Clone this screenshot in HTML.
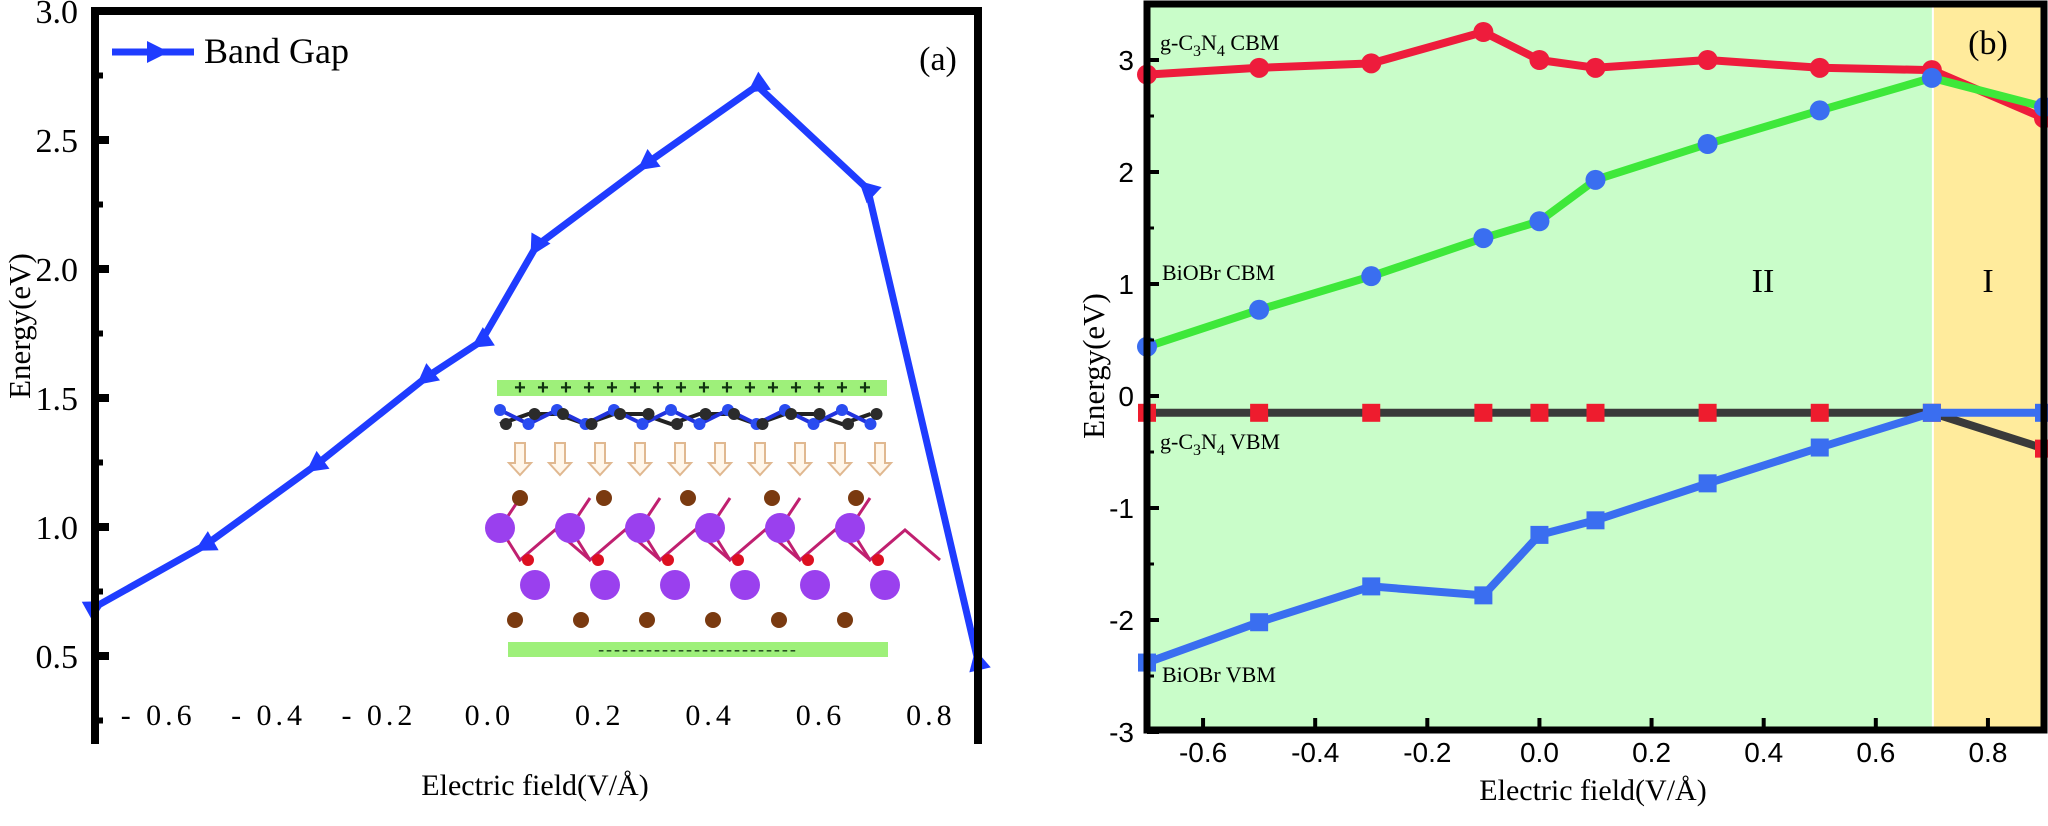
<!DOCTYPE html>
<html><head><meta charset="utf-8"><style>
html,body{margin:0;padding:0;background:#fff;}
svg{display:block;font-family:"Liberation Serif",serif;}
</style></head><body>
<svg id="fig" width="2048" height="826" viewBox="0 0 2048 826" xmlns="http://www.w3.org/2000/svg" font-family="Liberation Serif, serif">
<g id="pa"></g>
<g id="pb"></g>
</svg>
<script>
// ----- Panel (a) data -----
const aFields = [-0.7, -0.5, -0.3, -0.1, 0.0, 0.1, 0.3, 0.5, 0.7, 0.9];
const aBandGap = [0.69, 0.93, 1.24, 1.58, 1.72, 2.09, 2.41, 2.71, 2.31, 0.48];
const aYTicks = [0.5, 1.0, 1.5, 2.0, 2.5, 3.0];
const aXTicks = [-0.6, -0.4, -0.2, 0.0, 0.2, 0.4, 0.6, 0.8];
// ----- Panel (b) data -----
const bFields = [-0.7, -0.5, -0.3, -0.1, 0.0, 0.1, 0.3, 0.5, 0.7, 0.9];
const gcnCBM = [2.87, 2.93, 2.97, 3.25, 3.0, 2.93, 3.0, 2.93, 2.91, 2.48];
const biobrCBM = [0.44, 0.77, 1.07, 1.41, 1.56, 1.93, 2.25, 2.55, 2.84, 2.58];
const gcnVBM = [-0.15, -0.15, -0.15, -0.15, -0.15, -0.15, -0.15, -0.15, -0.15, -0.47];
const biobrVBM = [-2.38, -2.02, -1.70, -1.78, -1.24, -1.11, -0.78, -0.46, -0.15, -0.15];
const bYTicks = [-3, -2, -1, 0, 1, 2, 3];
const bXTicks = [-0.6, -0.4, -0.2, 0.0, 0.2, 0.4, 0.6, 0.8];
const bRegionBoundary = 0.7;

const NS = "http://www.w3.org/2000/svg";
function mk(parent, tag, attrs, text){
  const e = document.createElementNS(NS, tag);
  for (const k in attrs) e.setAttribute(k, attrs[k]);
  if (text !== undefined) e.textContent = text;
  parent.appendChild(e);
  return e;
}
const fmt1 = v => (v < 0 ? "\u2212" : "") + Math.abs(v).toFixed(1);

// ===== Panel (a) =====
const pa = document.getElementById("pa");
const aL = 95, aR = 978, aT = 11;
const ax = v => aL + (v - (-0.7)) / 1.6 * (aR - aL);
const ay = v => aT + (3.0 - v) * 258;
const aB = 744;

// inset figure
const inset = mk(pa, "g", {});


mk(inset, "rect", {x:497, y:380, width:390, height:16, fill:"#9ef07a"});
for (let i=0;i<16;i++){ const cx=520+i*23; mk(inset,"text",{x:cx,y:394,"font-size":"20","text-anchor":"middle",fill:"#113311","font-family":"Liberation Sans, sans-serif","font-weight":"bold"},"+"); }
let p1="", p2="";
for (let i=0;i<14;i++){ const x=500+i*28.5; p1 += (i?"L":"M")+x+","+(410+(i%2?14:0)); p2 += (i?"L":"M")+x+","+(424-(i%3?10:0)); }
mk(inset,"path",{d:p2,stroke:"#222",fill:"none","stroke-width":4});
mk(inset,"path",{d:p1,stroke:"#2233dd",fill:"none","stroke-width":4});
for (let i=0;i<14;i++){ const x=500+i*28.5; mk(inset,"circle",{cx:x,cy:410+(i%2?14:0),r:6,fill:"#2a4cf0"}); mk(inset,"circle",{cx:x+6,cy:424-(i%3?10:0),r:6,fill:"#2b2b2b"}); }
for (let i=0;i<10;i++){ const x=520+i*40; mk(inset,"path",{d:`M${x-5},443 h10 v20 h6 l-11,12 l-11,-12 h6 z`,fill:"#fff6ea",stroke:"#e0b890","stroke-width":2}); }
for (let i=0;i<6;i++){ const x=520+i*70; mk(inset,"path",{d:`M${x},498 L${x-20},528 L${x},560 L${x+35},530 L${x+70},560`,stroke:"#c02070",fill:"none","stroke-width":3}); }
for (let i=0;i<5;i++){ const x=520+i*84; mk(inset,"circle",{cx:x,cy:498,r:8,fill:"#7a3a10"}); }
for (let i=0;i<6;i++){ const x=520+i*70; mk(inset,"circle",{cx:x-20,cy:528,r:15,fill:"#9a40ee"}); mk(inset,"circle",{cx:x+15,cy:585,r:15,fill:"#9a40ee"}); mk(inset,"circle",{cx:x+8,cy:560,r:6,fill:"#dd1020"}); }
for (let i=0;i<6;i++){ const x=515+i*66; mk(inset,"circle",{cx:x,cy:620,r:8,fill:"#7a3a10"}); }
mk(inset, "rect", {x:508, y:642, width:380, height:15, fill:"#9ef07a"});
mk(inset,"text",{x:698,y:655,"font-size":"18","text-anchor":"middle",fill:"#113311","letter-spacing":"2"},"-------------------------");

let d = "";
aFields.forEach((f,i)=>{ d += (i?"L":"M")+ax(f).toFixed(1)+","+ay(aBandGap[i]).toFixed(1); });
const aLine = mk(pa, "path", {d:d, fill:"none", stroke:"#1f3cff", "stroke-width":7, "stroke-linejoin":"miter"});


aFields.forEach((f,i)=>{
  const x = ax(f), y = ay(aBandGap[i]);
  const j = i === 0 ? 1 : i - 1;
  const ang = Math.atan2(ay(aBandGap[j]) - y, ax(aFields[j]) - x) * 180 / Math.PI;
  const m = mk(pa, "path", {d:"M12,0 L-9,-11 L-9,11 Z", fill:"#1f3cff", transform:`translate(${x},${y}) rotate(${ang})`});
  
  
});
// frame (no bottom border)
const aFrame = mk(pa, "path", {d:`M${aL},${aB} V${aT} H${aR} V${aB}`, fill:"none", stroke:"#000", "stroke-width":8});


aYTicks.forEach(v=>{
  mk(pa,"line",{x1:aL,x2:aL+14,y1:ay(v),y2:ay(v),stroke:"#000","stroke-width":8});
  const t = mk(pa,"text",{x:78,y:ay(v)+12,"font-size":"34","text-anchor":"end"},v.toFixed(1));
  
  
  mk(pa,"line",{x1:aL,x2:aL+8,y1:ay(v-0.25),y2:ay(v-0.25),stroke:"#000","stroke-width":6});
});
aXTicks.forEach(v=>{
  const t = mk(pa,"text",{x:ax(v)+8,y:725,"font-size":"30","text-anchor":"middle","letter-spacing":"4"},fmt1(v).replace("\u2212","- "));
  
  
});
const aYT = mk(pa,"text",{x:0,y:0,"font-size":"31","text-anchor":"middle",transform:"translate(30,326) rotate(-90)"},"Energy(eV)");


const aXT = mk(pa,"text",{x:535,y:795,"font-size":"30","text-anchor":"middle"},"Electric field(V/Å)");


const leg = mk(pa,"g",{});


mk(leg,"line",{x1:112,x2:194,y1:52,y2:52,stroke:"#1f3cff","stroke-width":7});
mk(leg,"path",{d:"M147,41 L169,52 L147,63 Z",fill:"#1f3cff"});
mk(leg,"text",{x:204,y:63,"font-size":"36"},"Band Gap");
const aLab = mk(pa,"text",{x:938,y:70,"font-size":"34","text-anchor":"middle"},"(a)");



// ===== Panel (b) =====
const pb = document.getElementById("pb");
const bL = 1147, bR = 2044, bT = 4, bB = 730;
const bx = v => bL + (v - (-0.7)) / 1.6 * (bR - bL);
const by = v => 396 - v * 112;
const bg1 = mk(pb,"rect",{x:bL,y:bT,width:bx(bRegionBoundary)-bL,height:bB-bT,fill:"#c9fdc9"});


const bg2 = mk(pb,"rect",{x:bx(bRegionBoundary)+2,y:bT,width:bR-bx(bRegionBoundary)-2,height:bB-bT,fill:"#ffeb9c"});



function series(vals, lineColor, markColor, shape, name){
  const g = mk(pb,"g",{});
  
  
  let dd = "";
  bFields.forEach((f,i)=>{ dd += (i?"L":"M")+bx(f).toFixed(1)+","+by(vals[i]).toFixed(1); });
  mk(g,"path",{d:dd,fill:"none",stroke:lineColor,"stroke-width":8,"stroke-linejoin":"round"});
  bFields.forEach((f,i)=>{
    const x=bx(f), y=by(vals[i]);
    let m;
    if (shape==="circle") m = mk(g,"circle",{cx:x,cy:y,r:10,fill:markColor});
    else m = mk(g,"rect",{x:x-9,y:y-9,width:18,height:18,fill:markColor});
    
    
  });
}
series(gcnVBM, "#3a3a3a", "#ee1c2e", "square", "gc3n4-vbm-series");
series(biobrVBM, "#3a6ef0", "#3a6ef0", "square", "biobr-vbm-series");
series(gcnCBM, "#ee1c3c", "#ee1c3c", "circle", "gc3n4-cbm-series");
series(biobrCBM, "#3ee83a", "#3a6ef0", "circle", "biobr-cbm-series");

const bFrame = mk(pb,"rect",{x:bL,y:bT,width:bR-bL,height:bB-bT,fill:"none",stroke:"#000","stroke-width":7});


bYTicks.forEach(v=>{
  mk(pb,"line",{x1:bL,x2:bL+12,y1:by(v),y2:by(v),stroke:"#000","stroke-width":4});
  mk(pb,"line",{x1:bL,x2:bL+7,y1:by(v+0.5),y2:by(v+0.5),stroke:"#000","stroke-width":3});
  const t = mk(pb,"text",{x:1134,y:by(v)+10,"font-size":"28","text-anchor":"end","font-family":"Liberation Sans, sans-serif"},v<0?"-"+Math.abs(v):String(v));
  
  
});
bXTicks.forEach(v=>{
  mk(pb,"line",{x1:bx(v),x2:bx(v),y1:bB,y2:bB-12,stroke:"#000","stroke-width":4});
  const t = mk(pb,"text",{x:bx(v),y:762,"font-size":"28","text-anchor":"middle","font-family":"Liberation Sans, sans-serif"},(v<0?"-":"")+Math.abs(v).toFixed(1));
  
  
});
const bYT = mk(pb,"text",{x:0,y:0,"font-size":"31","text-anchor":"middle",transform:"translate(1104,366) rotate(-90)"},"Energy(eV)");


const bXT = mk(pb,"text",{x:1593,y:800,"font-size":"30","text-anchor":"middle"},"Electric field(V/Å)");



function lab(x,y,html,size,name){
  const t = mk(pb,"text",{x:x,y:y,"font-size":size});
  t.innerHTML = html;
  
  
  return t;
}
lab(1160,50,'g-C<tspan font-size="16" dy="6">3</tspan><tspan dy="-6">N</tspan><tspan font-size="16" dy="6">4</tspan><tspan dy="-6"> CBM</tspan>',"22","gc3n4-cbm-label");
lab(1162,280,'BiOBr CBM',"22","biobr-cbm-label");
lab(1160,449,'g-C<tspan font-size="16" dy="6">3</tspan><tspan dy="-6">N</tspan><tspan font-size="16" dy="6">4</tspan><tspan dy="-6"> VBM</tspan>',"22","gc3n4-vbm-label");
lab(1162,682,'BiOBr VBM',"22","biobr-vbm-label");
const r2 = lab(1763,292,'II',"34","region-ii-label"); r2.setAttribute("text-anchor","middle");
const r1 = lab(1988,292,'I',"34","region-i-label"); r1.setAttribute("text-anchor","middle");
const rb = lab(1988,54,'(b)',"34","panel-b-label"); rb.setAttribute("text-anchor","middle");
</script>
</body></html>
